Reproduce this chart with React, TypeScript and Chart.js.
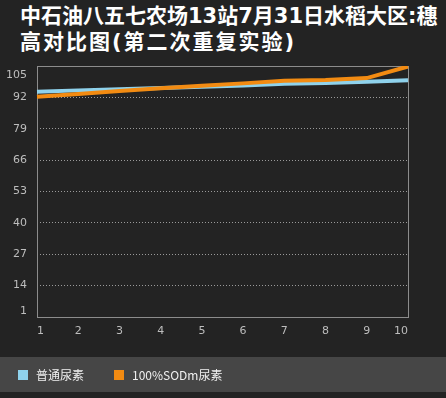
import React, { useEffect, useRef } from "react";
import { Chart, registerables } from "chart.js";

Chart.register(...registerables);

const titleLine1 = ["中石油八五七农场", "13", "站", "7", "月", "31", "日水稻大区", ":", "穗"];
const titleLine2 = "高对比图(第二次重复实验)";
const categories = ["1", "2", "3", "4", "5", "6", "7", "8", "9", "10"];
const seriesNames = ["普通尿素", "100%SODm尿素"];
const ureaValues = [94.3, 94.9, 95.4, 95.9, 96.4, 96.9, 97.6, 98.0, 98.5, 99.1];
const sodValues = [92.3, 93.4, 94.6, 95.8, 96.8, 97.8, 98.9, 99.2, 100.0, 104.8];
const seriesColors = ["#8fd2ec", "#f28b12"];
const yTicks = [1, 14, 27, 40, 53, 66, 79, 92, 105];

const framePlugin = {
  id: "frame",
  beforeDatasetsDraw(chart: any) {
    const { ctx, chartArea } = chart;
    const l = Math.round(chartArea.left) + 0.5;
    const t = Math.round(chartArea.top) + 0.5;
    const r = Math.round(chartArea.right) + 0.5;
    const b = Math.round(chartArea.bottom) + 0.5;
    ctx.save();
    ctx.strokeStyle = "#8c8c8c";
    ctx.lineWidth = 1;
    ctx.strokeRect(l, t, r - l, b - t);
    ctx.restore();
  },
};

function ChartCanvas() {
  const ref = useRef<HTMLCanvasElement | null>(null);
  useEffect(() => {
    if (!ref.current) return;
    const yMin = yTicks[0];
    const yMax = yTicks[yTicks.length - 1];
    const chart = new Chart(ref.current, {
      type: "line",
      data: {
        labels: categories,
        datasets: [
          {
            label: seriesNames[0],
            data: ureaValues,
            borderColor: seriesColors[0],
            backgroundColor: seriesColors[0],
            borderWidth: 4,
            pointRadius: 0,
            tension: 0,
            order: 2,
          },
          {
            label: seriesNames[1],
            data: sodValues,
            borderColor: seriesColors[1],
            backgroundColor: seriesColors[1],
            borderWidth: 4,
            pointRadius: 0,
            tension: 0,
            order: 1,
          },
        ],
      },
      options: {
        animation: false,
        responsive: false,
        maintainAspectRatio: false,
        layout: { padding: { top: 66, left: 0, right: 38, bottom: 55 } },
        plugins: {
          legend: { display: false },
          title: { display: false },
          tooltip: { enabled: false },
        },
        scales: {
          x: {
            grid: { display: false, drawTicks: false },
            border: { display: false },
            ticks: {
              color: "#bdbdbd",
              font: { family: "'DejaVu Sans'", size: 11 },
              padding: 8,
              align: "inner",
              maxRotation: 0,
              autoSkip: false,
            },
            afterFit: (s: any) => {
              s.height = 26;
            },
          },
          y: {
            min: yMin,
            max: yMax,
            afterBuildTicks: (s: any) => {
              s.ticks = yTicks.map((v) => ({ value: v }));
            },
            afterFit: (s: any) => {
              s.width = 37;
            },
            grid: {
              drawTicks: false,
              color: (c: any) =>
                c.tick && (c.tick.value === yMin || c.tick.value === yMax) ? "rgba(0,0,0,0)" : "#9a9a9a",
              lineWidth: 1,
            },
            border: { display: false, dash: [1, 2] },
            ticks: {
              color: "#bdbdbd",
              padding: 10,
              autoSkip: false,
              font: (c: any) => ({
                family: "'DejaVu Sans'",
                size: 11,
                lineHeight: c.tick && c.tick.value === yMax ? 1.7 : 1.1,
              }),
              callback: (v: any) => {
                if (v === yMax) return ["", String(v)];
                if (v === yMin) return [String(v), ""];
                return String(v);
              },
            },
          },
        },
      },
      plugins: [framePlugin],
    } as any);
    return () => chart.destroy();
  }, []);
  return <canvas ref={ref} width={446} height={398} style={{ position: "absolute", left: 0, top: 0 }} />;
}

export default function App() {
  const titleFont = "'DejaVu Sans', 'Noto Sans CJK SC', sans-serif";
  return (
    <div
      style={{
        position: "absolute",
        left: 0,
        top: 0,
        width: 446,
        height: 398,
        background: "#232323",
        overflow: "hidden",
      }}
    >
      <div
        style={{
          position: "absolute",
          left: 20,
          top: 3,
          color: "#ffffff",
          fontFamily: titleFont,
          fontWeight: "bold",
          fontSize: 21,
          lineHeight: "26px",
          whiteSpace: "nowrap",
        }}
      >
        <div>
          {titleLine1.map((t, i) => (
            <span key={i}>{t}</span>
          ))}
        </div>
        <div style={{ letterSpacing: 2 }}>{titleLine2}</div>
      </div>
      <div
        style={{
          position: "absolute",
          left: 0,
          top: 357,
          width: 446,
          height: 35,
          background: "#464646",
        }}
      />
      <ChartCanvas />
      <div
        style={{
          position: "absolute",
          left: 0,
          top: 357,
          width: 446,
          height: 35,
          fontFamily: "'Noto Sans CJK SC', sans-serif",
          fontSize: 12,
          color: "#f0f0f0",
        }}
      >
        {seriesNames.map((name, i) => (
          <div
            key={i}
            style={{
              position: "absolute",
              left: i === 0 ? 18 : 114,
              top: 9,
              height: 18,
              display: "flex",
              alignItems: "center",
              whiteSpace: "nowrap",
            }}
          >
            <span
              style={{
                display: "inline-block",
                width: 10,
                height: 10,
                background: seriesColors[i],
                marginRight: 8,
              }}
            />
            <span style={{ lineHeight: "18px" }}>{name}</span>
          </div>
        ))}
      </div>
    </div>
  );
}
